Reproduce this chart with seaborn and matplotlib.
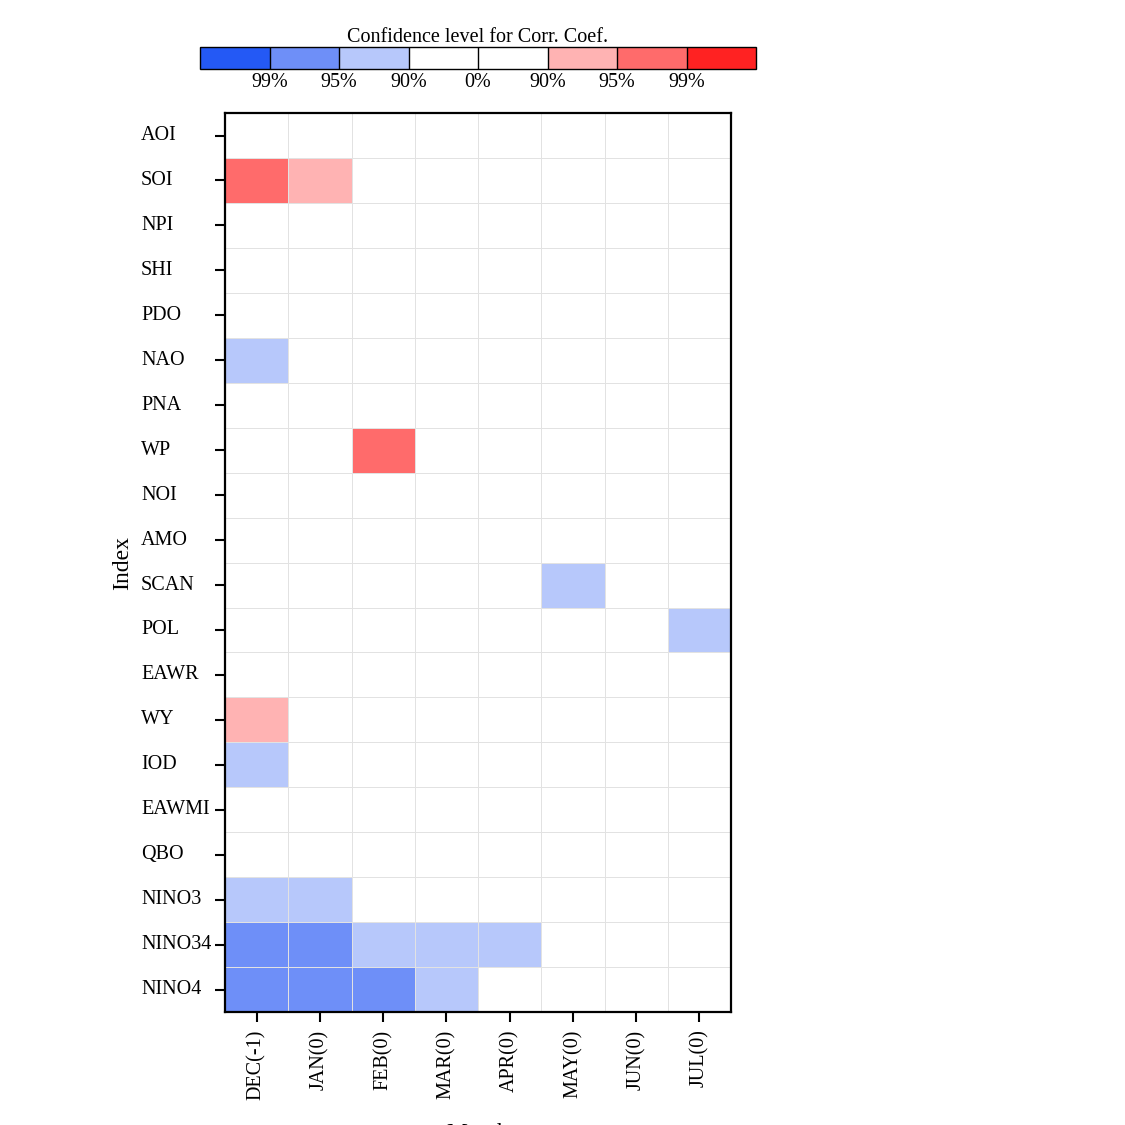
import numpy as np
import pandas as pd
import matplotlib
matplotlib.use('Agg')
import matplotlib.pyplot as plt
from matplotlib.colors import ListedColormap, BoundaryNorm
import seaborn as sns

# Índices e meses
indices = ['AOI', 'SOI', 'NPI', 'SHI', 'PDO', 'NAO', 'PNA', 'WP', 'NOI', 'AMO',
           'SCAN', 'POL', 'EAWR', 'WY', 'IOD', 'EAWMI', 'QBO', 'NINO3', 'NINO34', 'NINO4']
meses = ['DEC(-1)', 'JAN(0)', 'FEB(0)', 'MAR(0)', 'APR(0)', 'MAY(0)', 'JUN(0)', 'JUL(0)']

# Nível de significância: -3/-2/-1 = 99/95/90% negativo, 0 = nada, 1/2/3 = 90/95/99% positivo
sig_AOI    = [0, 0, 0, 0, 0, 0, 0, 0]
sig_SOI    = [2, 1, 0, 0, 0, 0, 0, 0]
sig_NPI    = [0, 0, 0, 0, 0, 0, 0, 0]
sig_SHI    = [0, 0, 0, 0, 0, 0, 0, 0]
sig_PDO    = [0, 0, 0, 0, 0, 0, 0, 0]
sig_NAO    = [-1, 0, 0, 0, 0, 0, 0, 0]
sig_PNA    = [0, 0, 0, 0, 0, 0, 0, 0]
sig_WP     = [0, 0, 2, 0, 0, 0, 0, 0]
sig_NOI    = [0, 0, 0, 0, 0, 0, 0, 0]
sig_AMO    = [0, 0, 0, 0, 0, 0, 0, 0]
sig_SCAN   = [0, 0, 0, 0, 0, -1, 0, 0]
sig_POL    = [0, 0, 0, 0, 0, 0, 0, -1]
sig_EAWR   = [0, 0, 0, 0, 0, 0, 0, 0]
sig_WY     = [1, 0, 0, 0, 0, 0, 0, 0]
sig_IOD    = [-1, 0, 0, 0, 0, 0, 0, 0]
sig_EAWMI  = [0, 0, 0, 0, 0, 0, 0, 0]
sig_QBO    = [0, 0, 0, 0, 0, 0, 0, 0]
sig_NINO3  = [-1, -1, 0, 0, 0, 0, 0, 0]
sig_NINO34 = [-2, -2, -1, -1, -1, 0, 0, 0]
sig_NINO4  = [-2, -2, -2, -1, 0, 0, 0, 0]

linhas = [sig_AOI, sig_SOI, sig_NPI, sig_SHI, sig_PDO, sig_NAO, sig_PNA, sig_WP,
          sig_NOI, sig_AMO, sig_SCAN, sig_POL, sig_EAWR, sig_WY, sig_IOD, sig_EAWMI,
          sig_QBO, sig_NINO3, sig_NINO34, sig_NINO4]
dados = pd.DataFrame(linhas, index=indices, columns=meses)

# Legenda da barra de cores
cores = ['#2459f5', '#6e8ff8', '#b7c8fb', '#ffffff', '#ffffff', '#ffb3b3', '#ff6b6b', '#ff2222']
limites = [-3.5, -2.5, -1.5, -0.5, 0, 0.5, 1.5, 2.5, 3.5]
ticks_cbar = [-2.5, -1.5, -0.5, 0, 0.5, 1.5, 2.5]
rotulos_cbar = ['99%', '95%', '90%', '0%', '90%', '95%', '99%']

sns.set_style('white')
plt.rcParams['font.family'] = ['Liberation Serif', 'DejaVu Serif']
plt.rcParams['font.size'] = 14.5
plt.rcParams['text.color'] = 'black'
plt.rcParams['axes.labelcolor'] = 'black'
plt.rcParams['xtick.color'] = 'black'
plt.rcParams['ytick.color'] = 'black'

cmap = ListedColormap(cores)
norm = BoundaryNorm(limites, cmap.N)

fig = plt.figure(figsize=(11.25, 11.25), dpi=100)
ax = fig.add_axes([0.2, 0.1004, 0.4498, 0.7991])
cax = fig.add_axes([0.1778, 0.9387, 0.4942, 0.0196])

sns.heatmap(dados, ax=ax, cmap=cmap, norm=norm, linewidths=0.7, linecolor='#e2e2e2',
            cbar_ax=cax,
            cbar_kws={'orientation': 'horizontal', 'drawedges': True,
                      'spacing': 'uniform', 'ticks': ticks_cbar})

# Moldura do mapa de calor
for s in ax.spines.values():
    s.set_visible(True)
    s.set_color('black')
    s.set_linewidth(1.6)

ax.tick_params(axis='y', left=True, length=7.5, width=1.5, direction='out', pad=53,
               labelsize=14.5, rotation=0)
ax.tick_params(axis='x', bottom=True, length=7.5, width=1.5, direction='out', pad=5,
               labelsize=14.5, rotation=90)
for t in ax.get_yticklabels():
    t.set_ha('left')
ax.set_ylabel('Index', fontsize=17, labelpad=6)
ax.set_xlabel('Month', fontsize=17, labelpad=17)

# Barra de cores
cbar = ax.collections[0].colorbar
cbar.set_ticklabels(rotulos_cbar)
cbar.outline.set_edgecolor('black')
cbar.outline.set_linewidth(1.0)
cbar.dividers.set_color('black')
cbar.dividers.set_linewidth(1.0)
cax.minorticks_off()
cax.tick_params(axis='both', which='both', length=0)
cax.tick_params(axis='x', pad=3, labelsize=14.5)
cax.set_title('Confidence level for Corr. Coef.', fontsize=14.5, pad=3)

fig.savefig('out.png', dpi=100)
